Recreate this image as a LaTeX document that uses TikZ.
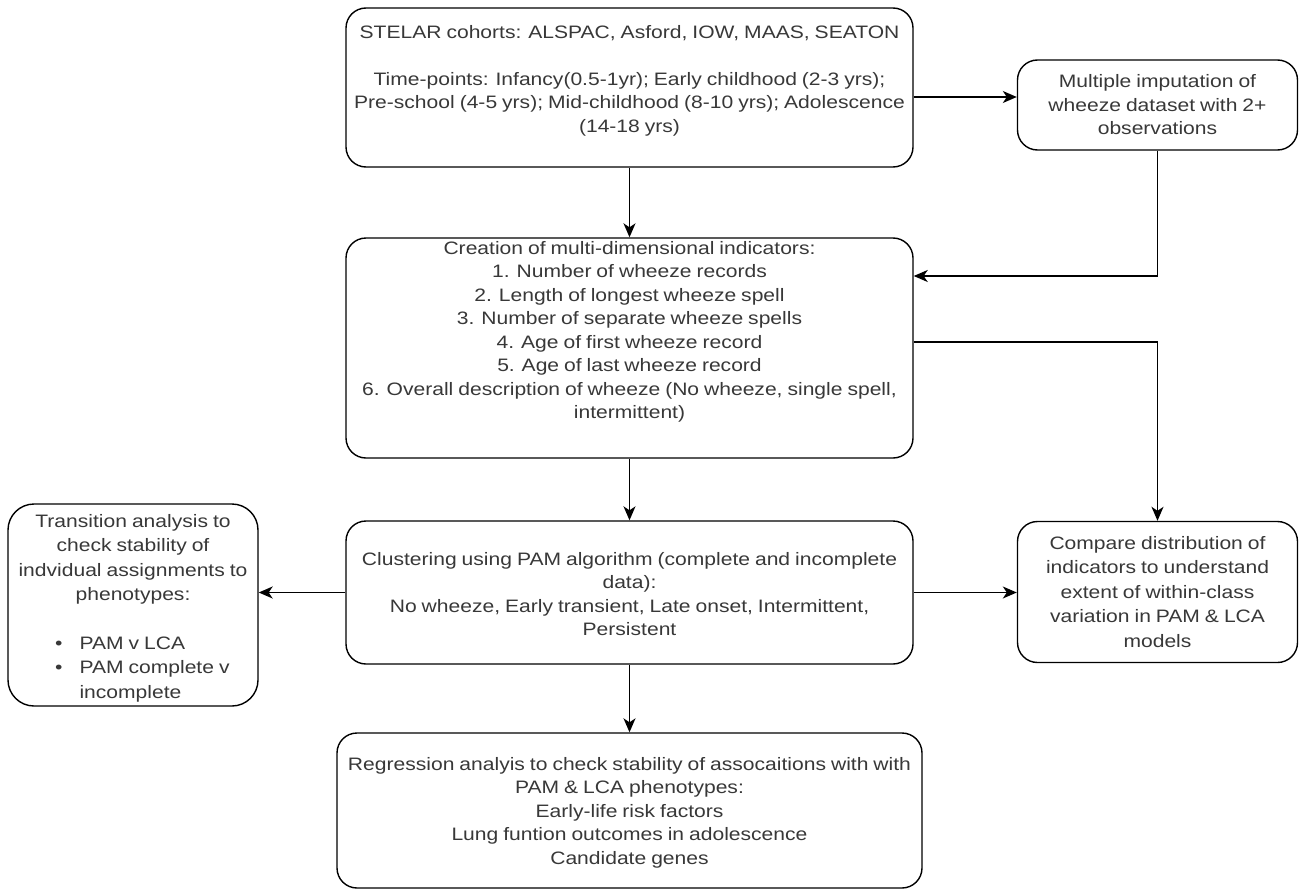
\documentclass[tikz,border=0pt]{standalone}
\usepackage{fontspec}
\setmainfont[FakeStretch=1.17,WordSpace={0.85,0.6,0.3}]{Liberation Sans}
\usetikzlibrary{arrows.meta}
\begin{document}
\begin{tikzpicture}[x=1pt,y=-1pt,
  box/.style={draw=black, line width=1.4pt, rounded corners=20pt, fill=white, inner sep=0pt},
  txt/.style={text=black!78, font=\fontsize{18}{23.5}\selectfont, align=center, inner sep=0pt},
  arr/.style={draw=black, line width=1.5pt, -{Stealth[length=14pt,width=12pt,inset=4pt]}}]
\useasboundingbox (0,0) rectangle (1301,891);
% boxes
\node[box, minimum width=567pt, minimum height=159pt] (A) at (629.5,87.5) {};
\node[box, minimum width=280pt, minimum height=90pt] (B) at (1157.5,105) {};
\node[box, minimum width=567pt, minimum height=220pt] (C) at (629.5,348) {};
\node[box, minimum width=280pt, minimum height=141pt] (D) at (1157.5,592) {};
\node[box, minimum width=567pt, minimum height=143pt] (E) at (629.5,592.5) {};
\node[box, minimum width=250pt, minimum height=202pt, rounded corners=26pt] (F) at (133,605) {};
\node[box, minimum width=585pt, minimum height=155pt] (G) at (629.5,810.5) {};
% texts
\node[txt, anchor=north] (tA) at (629.5,25) {STELAR cohorts: ALSPAC, Asford, IOW, MAAS, SEATON\\[23.5pt]
Time-points: Infancy(0.5-1yr); Early childhood (2-3 yrs);\\
Pre-school (4-5 yrs); Mid-childhood (8-10 yrs); Adolescence\\
(14-18 yrs)};
\node[txt] (tB) at (B.center) {Multiple imputation of\\ wheeze dataset with 2+\\ observations};
\node[txt, anchor=north] (tC) at (629.5,241) {Creation of multi-dimensional indicators:\\
1. Number of wheeze records\\
2. Length of longest wheeze spell\\
3. Number of separate wheeze spells\\
4. Age of first wheeze record\\
5. Age of last wheeze record\\
6. Overall description of wheeze (No wheeze, single spell,\\
intermittent)};
\node[txt, font=\fontsize{18}{24.5}\selectfont] (tD) at (D.center) {Compare distribution of\\ indicators to understand\\ extent of within-class\\ variation in PAM \& LCA\\ models};
\node[txt, anchor=north] (tE) at (629.5,552) {Clustering using PAM algorithm (complete and incomplete\\ data):\\ No wheeze, Early transient, Late onset, Intermittent,\\ Persistent};
\node[txt, anchor=north, font=\fontsize{18}{24.5}\selectfont] (tF) at (133,514) {Transition analysis to\\ check stability of\\ indvidual assignments to\\ phenotypes:};
\node[txt, anchor=north west, align=left, font=\fontsize{18}{24.5}\selectfont] (tF2) at (55,632) {\begin{tabular}{@{}l@{\hspace{17pt}}l@{}}•&PAM v LCA\\ •&PAM complete v\\ &incomplete\end{tabular}};
\node[txt, anchor=north] (tG) at (629.5,757) {Regression analyis to check stability of assocaitions with with\\ PAM \& LCA phenotypes:\\ Early-life risk factors\\ Lung funtion outcomes in adolescence\\ Candidate genes};
% connectors
\draw[arr] (A.east |- 0,97) -- (B.west |- 0,97);
\draw[arr] (B.south) |- (C.east |- 0,276);
\draw[arr] (A.south) -- (C.north);
\draw[arr] (C.east |- 0,342) -| (D.north);
\draw[arr] (C.south) -- (E.north);
\draw[arr] (E.west) -- (F.east |- E.west);
\draw[arr] (E.east) -- (D.west |- E.east);
\draw[arr] (E.south) -- (G.north);
\end{tikzpicture}
\end{document}
